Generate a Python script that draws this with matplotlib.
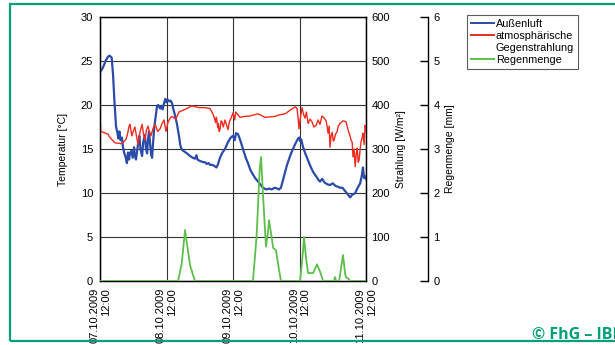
import numpy as np
import matplotlib.pyplot as plt
from matplotlib.lines import Line2D
from matplotlib.patches import Rectangle

plt.rcParams['font.family'] = ['Liberation Sans', 'DejaVu Sans']

# Zeit in Stunden ab 07.10.2009 12:00
datum_labels = ['07.10.2009\n12:00', '08.10.2009\n12:00', '09.10.2009\n12:00',
                '10.10.2009\n12:00', '11.10.2009\n12:00']
datum_ticks = [0, 24, 48, 72, 96]

# Außenlufttemperatur [°C]
t_luft = [0, 1, 2, 2.9, 3.5, 4.2, 4.7, 5.2, 5.8, 6.2, 6.6, 7.0, 7.4, 7.9, 8.3, 8.8,
          9.3, 9.7, 10.1, 10.5, 10.8, 11.3, 11.8, 12.3, 12.6, 13.0, 13.7, 14.2, 14.6,
          15.2, 15.6, 16.2, 16.6, 17.0, 17.3, 17.7, 18.1, 18.5, 18.8, 19.1, 19.6, 20.2,
          20.6, 21.0, 21.7, 22.2, 22.6, 23.1, 23.6, 24.0, 24.5, 25.0, 25.5, 26.0, 26.5,
          27.1, 27.8, 28.5, 29.0, 29.6, 30.5, 31.4, 32.5, 33.5, 34.3, 34.8, 35.2, 35.7,
          36.5, 37.2, 37.9, 38.5, 39.2, 39.7, 40.5, 41.2, 42.0, 42.5, 43.3, 44.2, 45.1,
          46.2, 47.2, 48.0, 48.6, 49.1, 49.8, 50.4, 50.9, 51.8, 52.6, 53.4, 54.3, 55.2,
          56.0, 57.0, 58.0, 58.8, 60, 61, 62, 63, 64, 64.6, 65.3, 66.3, 67.5, 68.6,
          69.5, 70.5, 71.5, 71.9, 72.2, 72.6, 73.3, 74.2, 75.1, 76.0, 76.9, 78.0, 78.8,
          79.4, 80.2, 81, 82, 83, 84, 85, 86, 86.6, 87.5, 88.5, 89.5, 90.3, 91.0, 91.7,
          92.1, 93.0, 93.9, 94.5, 94.9, 95.3, 95.7, 96]
aussenluft = [23.7, 24.2, 25.0, 25.5, 25.6, 25.4, 23.5, 20.5, 17.5, 17.0, 16.2, 17.0,
              16.0, 16.3, 15.2, 14.5, 14.0, 13.4, 14.6, 13.8, 14.5, 14.8, 14.0, 15.2,
              14.2, 13.8, 15.5, 16.5, 15.0, 14.2, 15.8, 16.6, 15.0, 14.5, 16.0, 17.0,
              15.5, 14.3, 14.0, 15.5, 17.5, 19.0, 19.9, 20.0, 19.6, 19.9, 19.5, 20.2,
              20.7, 20.3, 20.6, 20.4, 20.5, 20.2, 19.5, 18.8, 17.8, 16.5, 15.4, 14.9,
              14.7, 14.5, 14.2, 14.0, 13.9, 14.3, 13.8, 13.7, 13.6, 13.5, 13.5, 13.3,
              13.4, 13.2, 13.2, 13.1, 12.9, 13.2, 14.0, 14.6, 15.0, 15.8, 16.3, 16.5,
              16.0, 16.8, 16.7, 16.2, 15.7, 14.8, 14.0, 13.4, 12.6, 12.1, 11.7, 11.3,
              10.9, 10.6, 10.4, 10.5, 10.4, 10.6, 10.5, 10.4, 10.6, 11.8, 13.2, 14.2,
              14.9, 15.6, 16.2, 16.3, 15.9, 16.1, 15.2, 14.4, 13.7, 13.0, 12.4, 11.9,
              11.5, 11.3, 11.6, 11.2, 11.0, 10.9, 11.1, 10.8, 10.7, 10.6, 10.6, 10.2,
              9.8, 9.5, 9.8, 9.9, 10.0, 10.6, 11.1, 12.0, 12.9, 11.7, 11.9, 11.6]

# atmosphärische Gegenstrahlung [W/m²]
t_strahlung = [0, 0.3, 1, 2.9, 3.6, 5.4, 7.9, 9.4, 10.0, 10.5, 10.8, 11.5, 12.1, 12.6,
               13.2, 13.7, 14.5, 15.2, 15.7, 16.2, 16.8, 17.3, 17.9, 18.4, 19.1, 19.9,
               20.8, 21.7, 22.4, 23.1, 23.8, 24.5, 25.3, 26.0, 27.4, 28.5, 30.7, 33.2,
               35.7, 37.9, 39.7, 40.4, 41.0, 41.4, 41.7, 42.0, 42.2, 42.5, 42.7, 43.0,
               43.3, 43.7, 44.0, 44.5, 45.1, 45.6, 46.2, 46.7, 47.3, 48.0, 48.6, 49.0,
               49.5, 50.5, 52.0, 54.1, 57.0, 59.6, 63.0, 65.0, 66.8, 68.6, 70.4, 71.1,
               71.5, 71.8, 72.2, 72.9, 73.4, 74.0, 74.5, 75.1, 75.8, 76.5, 77.2, 78.0,
               78.7, 79.4, 80.1, 80.9, 81.6, 82.0, 82.3, 82.7, 83.0, 83.4, 83.8, 84.2,
               84.5, 85.0, 85.5, 86.0, 86.6, 87.7, 88.8, 89.5, 90.0, 90.3, 90.7, 91.0,
               91.3, 91.7, 92.1, 92.5, 92.8, 93.2, 93.5, 93.9, 94.2, 94.6, 94.9, 95.3,
               95.7, 96]
gegenstrahlung = [370, 340, 338, 334, 326, 314, 312, 322, 336, 352, 356, 330, 342, 350,
                  328, 310, 340, 356, 334, 320, 344, 352, 338, 330, 346, 356, 340, 346,
                  358, 366, 340, 360, 370, 374, 368, 384, 390, 398, 394, 394, 392, 384,
                  376, 368, 360, 372, 364, 348, 358, 340, 344, 364, 362, 350, 366, 356,
                  344, 362, 370, 382, 366, 384, 380, 372, 374, 375, 380, 372, 374, 378,
                  380, 388, 396, 392, 370, 346, 366, 394, 380, 370, 384, 358, 368, 362,
                  350, 354, 366, 356, 375, 370, 364, 350, 336, 352, 304, 330, 338, 318,
                  320, 334, 338, 352, 358, 364, 362, 344, 334, 328, 318, 316, 282, 300,
                  260, 290, 302, 270, 275, 300, 316, 326, 336, 310, 354, 340]

# Regenmenge [mm]
t_regen = [0, 28.2, 29.5, 30.7, 31.5, 32.5, 33.5, 34.3, 55.2, 56.5, 57.6, 58.1, 58.8,
           59.9, 60.6, 61.0, 61.7, 62.5, 63.5, 64.5, 65.3, 72.2, 73.3, 73.6, 74.4, 75.1,
           76.9, 78.3, 79.5, 80.5, 84.5, 84.8, 85.2, 86.3, 87.7, 88.5, 88.8, 89.5, 90.3, 96]
regenmenge = [0, 0, 0.4, 1.16, 0.8, 0.36, 0.15, 0, 0, 1.0, 2.5, 2.82, 2.0, 0.78, 1.1,
              1.38, 1.1, 0.75, 0.7, 0.3, 0, 0, 0.7, 1.0, 0.5, 0.18, 0.18, 0.38, 0.2, 0,
              0, 0.09, 0, 0, 0.59, 0.15, 0.08, 0.06, 0, 0]

fig = plt.figure(figsize=(6.15, 3.45), dpi=100)
ax1 = fig.add_axes([100 / 615, 1 - 281 / 345, 266 / 615, 264 / 345])
ax2 = ax1.twinx()
ax3 = ax1.twinx()

# Rahmen und Copyright
fig.patches.append(Rectangle((9.5 / 615, 1 - 341 / 345), 1.0, (341 - 4) / 345,
                             transform=fig.transFigure, fill=False,
                             edgecolor='#00a07a', lw=1.6, clip_on=False))
fig.text(532 / 615, 1 - 339 / 345, '© FhG – IBP', color='#00a07a', fontsize=11.5,
         fontweight='bold', family=['Open Sans', 'DejaVu Sans'], va='baseline')

ax1.plot(t_luft, aussenluft, color='#2b4ba8', lw=1.6, zorder=3)
ax2.plot(t_strahlung, gegenstrahlung, color='#f02a1e', lw=1.0)
ax3.plot(t_regen, regenmenge, color='#5dbf4a', lw=1.3)

ax1.set_xlim(0, 96)
ax1.set_ylim(0, 30)
ax2.set_ylim(0, 600)
ax3.set_ylim(0, 6)

ax1.set_yticks(range(0, 31, 5))
ax2.set_yticks(range(0, 601, 100))
ax3.set_yticks(range(0, 7, 1))
ax1.set_xticks(datum_ticks)
ax1.set_xticklabels(datum_labels, rotation=90, ma='right', fontsize=7.5)
ax1.grid(True, color='#333333', lw=0.8)

ax1.tick_params(axis='both', length=0, labelsize=8)
ax1.tick_params(axis='y', pad=5)
ax1.tick_params(axis='x', pad=5)
ax2.tick_params(axis='y', length=0, labelsize=8, pad=4)
ax3.tick_params(axis='y', direction='in', length=6, width=1, labelsize=8, pad=4)

ax3.spines['right'].set_position(('axes', (428 - 100) / 266))
for s in ['top', 'left', 'bottom']:
    ax3.spines[s].set_visible(False)
ax3.spines['right'].set_linewidth(1)
for s in ax1.spines.values():
    s.set_linewidth(1)

ax1.set_ylabel('Temperatur [°C]', fontsize=7.5, labelpad=9)
ax2.set_ylabel('Strahlung [W/m²]', fontsize=7.5, labelpad=4)
ax3.set_ylabel('Regenmenge [mm]', fontsize=7.5, labelpad=4)

handles = [Line2D([], [], color='#2b4ba8', lw=1.4),
           Line2D([], [], color='#f02a1e', lw=1.4),
           Line2D([], [], color='none'),
           Line2D([], [], color='#5dbf4a', lw=1.4)]
labels = ['Außenluft', 'atmosphärische', 'Gegenstrahlung', 'Regenmenge']
leg = fig.legend(handles, labels, loc='upper left', bbox_to_anchor=(467 / 615, 1 - 15 / 345),
                 fontsize=7.8, frameon=True, fancybox=False, edgecolor='#333333',
                 handlelength=2.1, handletextpad=0.2, labelspacing=0.2,
                 borderpad=0.35, borderaxespad=0)
leg.get_frame().set_linewidth(0.8)

fig.savefig('out.png', dpi=100)
